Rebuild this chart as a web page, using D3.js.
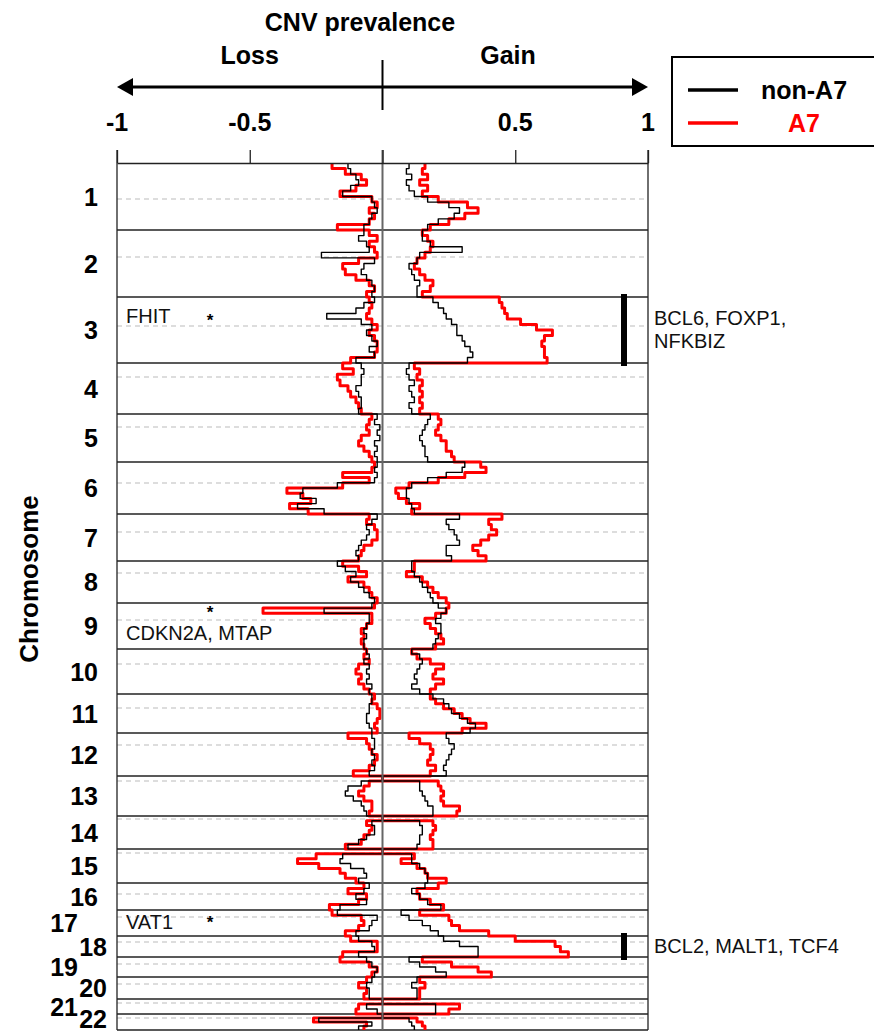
<!DOCTYPE html>
<html>
<head>
<meta charset="utf-8">
<script src="https://cdn.jsdelivr.net/npm/d3@7"></script>
<style>
body { margin: 0; background: #fff; }
text { font-family: Arial, 'Liberation Sans', sans-serif; }
</style>
</head>
<body>
<div id="chart-area"></div>
<script>
// Data
const chromosomes = ['1','2','3','4','5','6','7','8','9','10','11','12','13','14','15','16','17','18','19','20','21','22'];
// relative track length of every chromosome, and centromere offset inside it
const chromSpan = [67,67,66,51,48,52,47,42,46,45,39,43,40,33,34,27,26,21,20,22,15,16];
const centromere = [36,27,29,14,13,21,18,12,17,15,14,12,5,3,4,11,7,6,7,7,4,4];

const xTicks = [-1, -0.5, 0, 0.5, 1];
const xTickLabels = ['-1', '-0.5', '', '0.5', '1'];
const seriesNames = ['non-A7', 'A7'];

// loss prevalence (drawn to the left), one list of bins per chromosome
const lossNonA7 = [
    [0.13,0.12,0.10,0.09,0.12,0.15,0.04,0.03,0.02,0.04,0.05,0.07],
    [0.07,0.09,0.06,0.05,0.23,0.03,0.07,0.08,0.06,0.04,0.03,0.04],
    [0.03,0.07,0.10,0.21,0.08,0.04,0.06,0.04,0.02,0.05,0.03,0.10],
    [0.08,0.07,0.08,0.08,0.10,0.09,0.08,0.08,0.09],
    [0.02,0.03,0.01,0.02,0.01,0.03,0.02,0.03,0.02],
    [0.02,0.03,0.02,0.03,0.17,0.30,0.31,0.25,0.32,0.22],
    [0.02,0.04,0.06,0.05,0.06,0.08,0.09,0.10,0.09],
    [0.17,0.14,0.10,0.12,0.09,0.07,0.05,0.03],
    [0.04,0.22,0.05,0.05,0.06,0.07,0.06,0.07,0.07],
    [0.06,0.05,0.07,0.05,0.06,0.05,0.06,0.04,0.05],
    [0.04,0.04,0.05,0.05,0.06,0.06,0.05,0.04],
    [0.04,0.03,0.03,0.04,0.03,0.04,0.03,0.05],
    [0,0.08,0.13,0.14,0.11,0.08,0.07,0.06],
    [0,0.04,0.03,0.03,0.06,0.09,0.13],
    [0,0.15,0.16,0.12,0.07,0.06,0.09],
    [0.05,0.07,0.10,0.06,0.16],
    [0.17,0.02,0.04,0.05,0.10],
    [0.09,0.04,0.03,0.09],
    [0.06,0.04,0.02,0.03],
    [0.04,0.06,0.05,0.05],
    [0,0.06,0.02],
    [0,0.24,0.04,0.09]
];
const lossA7 = [
    [0.19,0.14,0.08,0.06,0.10,0.16,0.04,0.02,0.05,0.03,0.05,0.17],
    [0.05,0.02,0.05,0.03,0.02,0.09,0.15,0.14,0.10,0.05,0.03,0.06],
    [0.05,0.04,0.05,0.06,0.04,0.02,0.05,0.03,0.02,0.02,0.03,0.12],
    [0.15,0.11,0.17,0.16,0.13,0.12,0.10,0.09,0.08],
    [0.04,0.05,0.06,0.05,0.08,0.09,0.07,0.05,0.04],
    [0.03,0.04,0.15,0.05,0.15,0.36,0.30,0.27,0.35,0.28],
    [0.05,0.06,0.03,0.02,0.02,0.04,0.07,0.08,0.09],
    [0.15,0.09,0.06,0.13,0.07,0.05,0.04,0.02],
    [0.03,0.45,0.04,0.04,0.06,0.08,0.07,0.08,0.07],
    [0.06,0.07,0.05,0.09,0.10,0.08,0.09,0.07,0.05],
    [0.03,0.04,0.02,0.01,0.01,0.02,0.03,0.02],
    [0.13,0.06,0.05,0.04,0.02,0.03,0.05,0.11],
    [0,0.05,0.07,0.09,0.07,0.04,0.04,0.05],
    [0,0.06,0.04,0.05,0.07,0.08,0.14],
    [0,0.25,0.32,0.24,0.16,0.14,0.10],
    [0.07,0.13,0.06,0.09,0.20],
    [0.19,0.08,0.07,0.09,0.14],
    [0.12,0.02,0.02,0.15],
    [0.16,0.05,0.02,0.04],
    [0.06,0.09,0.06,0.07],
    [0,0.09,0.10],
    [0,0.26,0.06,0.07]
];
// gain prevalence (drawn to the right)
const gainNonA7 = [
    [0.10,0.09,0.11,0.09,0.10,0.12,0.17,0.25,0.29,0.27,0.21,0.17],
    [0.15,0.15,0.18,0.30,0.14,0.13,0.10,0.11,0.12,0.14,0.13,0.13],
    [0.19,0.21,0.23,0.24,0.26,0.28,0.28,0.30,0.31,0.33,0.34,0.32],
    [0.10,0.09,0.10,0.12,0.10,0.11,0.12,0.10,0.11],
    [0.18,0.17,0.16,0.15,0.14,0.15,0.16,0.16,0.17],
    [0.31,0.30,0.24,0.17,0.11,0.09,0.09,0.10,0.11,0.12],
    [0.29,0.24,0.25,0.27,0.28,0.29,0.24,0.24,0.26],
    [0.11,0.11,0.12,0.14,0.15,0.17,0.18,0.19],
    [0.21,0.24,0.22,0.20,0.22,0.22,0.21,0.20,0.19],
    [0.11,0.14,0.15,0.14,0.13,0.12,0.13,0.11,0.14],
    [0.19,0.23,0.25,0.26,0.29,0.32,0.35,0.33],
    [0.24,0.25,0.27,0.26,0.25,0.24,0.23,0.24],
    [0,0.14,0.14,0.15,0.16,0.17,0.19,0.19],
    [0,0.14,0.15,0.15,0.14,0.14,0.13],
    [0,0.11,0.11,0.14,0.16,0.17,0.17],
    [0.16,0.11,0.14,0.17,0.22],
    [0.07,0.10,0.15,0.18,0.21],
    [0.23,0.29,0.36,0.36],
    [0.10,0.14,0.20,0.24],
    [0.13,0.11,0.13,0.13],
    [0,0.20,0.20],
    [0,0.10,0.11,0.12]
];
const gainA7 = [
    [0.16,0.15,0.17,0.14,0.17,0.15,0.21,0.32,0.36,0.31,0.25,0.18],
    [0.15,0.17,0.19,0.18,0.16,0.13,0.12,0.14,0.16,0.19,0.18,0.15],
    [0.44,0.45,0.46,0.47,0.52,0.58,0.64,0.61,0.60,0.61,0.61,0.62],
    [0.12,0.14,0.13,0.15,0.14,0.15,0.14,0.15,0.14],
    [0.21,0.22,0.21,0.20,0.22,0.24,0.24,0.26,0.27],
    [0.37,0.39,0.31,0.21,0.10,0.05,0.06,0.09,0.14,0.11],
    [0.45,0.40,0.41,0.43,0.40,0.37,0.34,0.36,0.39],
    [0.12,0.12,0.09,0.15,0.17,0.19,0.21,0.24],
    [0.25,0.24,0.20,0.16,0.18,0.20,0.22,0.23,0.20],
    [0.11,0.13,0.18,0.23,0.20,0.19,0.23,0.20,0.18],
    [0.18,0.20,0.23,0.27,0.30,0.33,0.39,0.30],
    [0.10,0.14,0.18,0.19,0.18,0.17,0.20,0.18],
    [0,0.21,0.22,0.23,0.22,0.23,0.29,0.28],
    [0,0.19,0.20,0.19,0.18,0.19,0.19],
    [0,0.12,0.07,0.13,0.16,0.17,0.24],
    [0.21,0.13,0.14,0.18,0.23],
    [0.14,0.25,0.26,0.29,0.40],
    [0.50,0.65,0.67,0.70],
    [0.15,0.26,0.36,0.41],
    [0.14,0.16,0.14,0.14],
    [0,0.29,0.25],
    [0,0.13,0.15,0.16]
];

// genes flagged with a loss (left) or a gain (right)
const lossGeneChrom = ['3', '9', '17'];
const lossGeneText = ['FHIT', 'CDKN2A, MTAP', 'VAT1'];
const gainGeneChrom = ['3', '18'];
const gainGeneText = [['BCL6, FOXP1,', 'NFKBIZ'], ['BCL2, MALT1, TCF4']];

// Constants
const WIDTH = 874;
const HEIGHT = 1034;
const PLOT = { LEFT: 117, RIGHT: 648, TOP: 163, BOTTOM: 1030 };
const RED = '#ff0000';
const BIG = 25;      // bold label size
const GENE = 20;     // gene label size

const svg = d3.select('#chart-area')
    .append('svg')
    .attr('width', WIDTH)
    .attr('height', HEIGHT);

// bold label
function boldText(parent, px, py, str, anchor) {
    return parent.append('text')
        .attr('x', px).attr('y', py)
        .attr('text-anchor', anchor || 'middle')
        .attr('font-size', BIG)
        .attr('font-weight', 'bold')
        .text(str);
}

// Scales
const starts = [0, ...d3.cumsum(chromSpan)];
const x = d3.scaleLinear().domain([-1, 1]).range([PLOT.LEFT, PLOT.RIGHT]);
const y = d3.scaleLinear().domain([0, d3.sum(chromSpan)]).range([PLOT.TOP, PLOT.BOTTOM]);
const chromStart = c => y(starts[chromosomes.indexOf(c)]);
const chromEnd = c => y(starts[chromosomes.indexOf(c) + 1]);

// chromosome boundaries and centromeres
svg.append('g')
    .selectAll('line')
    .data(starts.slice(1))
    .enter().append('line')
    .attr('x1', PLOT.LEFT).attr('x2', PLOT.RIGHT)
    .attr('y1', d => y(d)).attr('y2', d => y(d))
    .attr('stroke', '#222').attr('stroke-width', 1.3);

svg.append('g')
    .selectAll('line')
    .data(centromere)
    .enter().append('line')
    .attr('x1', PLOT.LEFT).attr('x2', PLOT.RIGHT)
    .attr('y1', (d, i) => y(starts[i] + d)).attr('y2', (d, i) => y(starts[i] + d))
    .attr('stroke', '#bbb').attr('stroke-width', 1).attr('stroke-dasharray', '5,4');

// side borders
[PLOT.LEFT, PLOT.RIGHT].forEach(px => {
    svg.append('line')
        .attr('x1', px).attr('x2', px)
        .attr('y1', PLOT.TOP - 13).attr('y2', PLOT.BOTTOM)
        .attr('stroke', '#222').attr('stroke-width', 1.3);
});

// Profiles
function profile(series, sign) {
    const pts = [];
    series.forEach((vals, i) => {
        const w = chromSpan[i] / vals.length;
        vals.forEach((v, j) => pts.push([sign * v, starts[i] + j * w]));
    });
    const last = series[series.length - 1];
    pts.push([sign * last[last.length - 1], starts[starts.length - 1]]);
    return pts;
}

const line = d3.line()
    .x(d => x(d[0]))
    .y(d => y(d[1]))
    .curve(d3.curveStepBefore);

const curves = [
    { data: profile(lossA7, -1), color: RED, w: 3 },
    { data: profile(gainA7, 1), color: RED, w: 3 },
    { data: profile(lossNonA7, -1), color: '#000', w: 1.4 },
    { data: profile(gainNonA7, 1), color: '#000', w: 1.4 }
];
svg.append('g')
    .selectAll('path')
    .data(curves)
    .enter().append('path')
    .attr('d', d => line(d.data))
    .attr('fill', 'none')
    .attr('stroke', d => d.color)
    .attr('stroke-width', d => d.w)
    .attr('stroke-linejoin', 'round');

// zero line
svg.append('line')
    .attr('x1', x(0)).attr('x2', x(0))
    .attr('y1', PLOT.TOP - 13).attr('y2', PLOT.BOTTOM)
    .attr('stroke', '#666').attr('stroke-width', 2);

// Top axis
const axis = svg.append('g')
    .attr('transform', `translate(0, ${PLOT.TOP})`)
    .call(d3.axisTop(x)
        .tickValues(xTicks)
        .tickFormat('')
        .tickSize(13)
        .tickSizeOuter(0));
axis.select('.domain').attr('stroke', '#222').attr('stroke-width', 1.3);
axis.selectAll('.tick line').attr('stroke', '#222').attr('stroke-width', 1.3);
xTicks.forEach((t, i) => boldText(svg, x(t), 131, xTickLabels[i]));

// Titles and arrow
boldText(svg, 360, 31, 'CNV prevalence');
boldText(svg, x(-0.5), 64, 'Loss');
boldText(svg, 508, 64, 'Gain');

svg.append('line')
    .attr('x1', x(-1) + 12).attr('x2', x(1) - 12)
    .attr('y1', 87).attr('y2', 87)
    .attr('stroke', '#000').attr('stroke-width', 3);
svg.append('path')
    .attr('d', `M${x(-1)},87 L${x(-1) + 16},78 L${x(-1) + 16},96 Z`)
    .attr('fill', '#000');
svg.append('path')
    .attr('d', `M${x(1)},87 L${x(1) - 16},78 L${x(1) - 16},96 Z`)
    .attr('fill', '#000');
svg.append('line')
    .attr('x1', x(0)).attr('x2', x(0))
    .attr('y1', 60).attr('y2', 110)
    .attr('stroke', '#000').attr('stroke-width', 2);

// Legend
const legend = svg.append('g');
legend.append('rect')
    .attr('x', 672).attr('y', 57)
    .attr('width', 215).attr('height', 89)
    .attr('fill', 'none').attr('stroke', '#000').attr('stroke-width', 2);
seriesNames.forEach((name, i) => {
    const color = i === 0 ? '#000' : RED;
    legend.append('line')
        .attr('x1', 688).attr('x2', 738)
        .attr('y1', 90 + i * 33).attr('y2', 90 + i * 33)
        .attr('stroke', color).attr('stroke-width', 3.5);
    boldText(legend, 804, 99 + i * 33, name).attr('fill', color);
});

// Chromosome labels
chromosomes.forEach((c, i) => {
    const px = i < 16 ? 98 : (i % 2 === 0 ? 78 : 107);
    const py = Math.min(y(starts[i] + chromSpan[i] / 2) + 9, 1028);
    boldText(svg, px, py, c, 'end');
});

svg.append('text')
    .attr('transform', `translate(38, 579) rotate(-90)`)
    .attr('text-anchor', 'middle')
    .attr('font-size', 26).attr('font-weight', 'bold')
    .text('Chromosome');

// Gene annotations
const lossOffsets = [{ t: 26, s: 22 }, { t: 37, s: 8 }, { t: 19, s: 11 }];
lossGeneText.forEach((txt, i) => {
    const top = chromStart(lossGeneChrom[i]);
    svg.append('text')
        .attr('x', 126).attr('y', top + lossOffsets[i].t)
        .attr('font-size', GENE).attr('fill', '#111')
        .text(txt);
    svg.append('text')
        .attr('x', 210).attr('y', top + lossOffsets[i].s + 7)
        .attr('text-anchor', 'middle')
        .attr('font-size', 17).attr('font-weight', 'bold')
        .text('*');
});

const gainOffsets = [28, 17];
gainGeneText.forEach((lines, i) => {
    const c = gainGeneChrom[i];
    svg.append('rect')
        .attr('x', 621).attr('y', chromStart(c) - 3)
        .attr('width', 6).attr('height', chromEnd(c) - chromStart(c) + 6)
        .attr('fill', '#000');
    lines.forEach((txt, k) => {
        svg.append('text')
            .attr('x', 654).attr('y', chromStart(c) + gainOffsets[i] + k * 23)
            .attr('font-size', GENE).attr('fill', '#111')
            .text(txt);
    });
});
</script>
</body>
</html>
